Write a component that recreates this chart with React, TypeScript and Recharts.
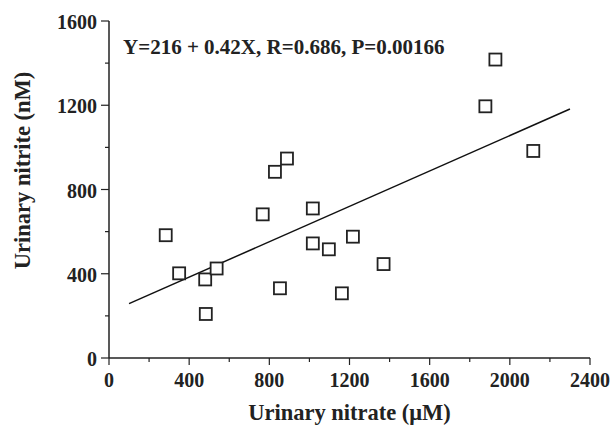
import { ScatterChart, Scatter, XAxis, YAxis, ReferenceLine } from "recharts";

const nitrate = [283, 350, 480, 483, 537, 767, 828, 888, 853, 1017, 1017, 1097, 1217, 1162, 1370, 1878, 1928, 2117];
const nitrite = [583, 402, 373, 209, 425, 682, 884, 947, 331, 710, 544, 516, 576, 307, 446, 1195, 1417, 983];

const xTicks = [0, 200, 400, 600, 800, 1000, 1200, 1400, 1600, 1800, 2000, 2200, 2400];
const yTicks = [0, 200, 400, 600, 800, 1000, 1200, 1400, 1600];
const majorX = [0, 400, 800, 1200, 1600, 2000, 2400];
const majorY = [0, 400, 800, 1200, 1600];

const intercept = 216;
const slope = 0.42;
const fitRange = [100, 2300];

const points = nitrate.map((x, i) => ({ x, y: nitrite[i] }));

const font = "'Liberation Serif', 'Times New Roman', serif";
const ink = "#222";

const BottomTick = (props: any) => {
  const { x, y, payload } = props;
  const major = majorX.includes(payload.value);
  return (
    <g>
      <line x1={x} x2={x} y1={y} y2={y + (major ? 7 : 4)} stroke={ink} strokeWidth={1.2} />
      {major && (
        <text x={x} y={y + 29} textAnchor="middle" fontFamily={font} fontWeight="bold" fontSize={20} fill={ink}>
          {payload.value}
        </text>
      )}
    </g>
  );
};

const TopTick = (props: any) => {
  const { x, y, payload } = props;
  const major = majorX.includes(payload.value);
  return <line x1={x} x2={x} y1={y} y2={y + (major ? 7 : 4)} stroke={ink} strokeWidth={1.2} />;
};

const LeftTick = (props: any) => {
  const { x, y, payload } = props;
  const major = majorY.includes(payload.value);
  return (
    <g>
      <line x1={x - (major ? 8 : 4)} x2={x} y1={y} y2={y} stroke={ink} strokeWidth={1.2} />
      {major && (
        <text x={x - 12} y={y + 8} textAnchor="end" fontFamily={font} fontWeight="bold" fontSize={20} fill={ink}>
          {payload.value}
        </text>
      )}
    </g>
  );
};

const RightTick = (props: any) => {
  const { x, y, payload } = props;
  const major = majorY.includes(payload.value);
  return <line x1={x - (major ? 7 : 4)} x2={x} y1={y} y2={y} stroke={ink} strokeWidth={1.2} />;
};

const YTitle = (props: any) => {
  const { viewBox } = props;
  const cx = 30;
  const cy = viewBox.y + viewBox.height / 2 - 19;
  return (
    <text
      x={cx}
      y={cy}
      transform={`rotate(-90, ${cx}, ${cy})`}
      textAnchor="middle"
      fontFamily={font}
      fontWeight="bold"
      fontSize={22.5}
      fill={ink}
    >
      Urinary nitrite (nM)
    </text>
  );
};

const Square = (props: any) => {
  const { cx, cy } = props;
  return <rect x={cx - 6} y={cy - 6} width={12} height={12} fill="#fff" stroke={ink} strokeWidth={1.8} />;
};

export default function App() {
  return (
    <div style={{ position: "absolute", left: 0, top: 0, width: 612, height: 426, background: "#fff" }}>
      <ScatterChart width={612} height={426} margin={{ top: 21, right: 22, left: 0, bottom: 0 }}>
        <XAxis
          xAxisId="b"
          type="number"
          dataKey="x"
          domain={[0, 2400]}
          ticks={xTicks}
          interval={0}
          height={68}
          tickSize={0}
          tickMargin={0}
          tickLine={false}
          tick={<BottomTick />}
          axisLine={{ stroke: ink, strokeWidth: 1.5 }}
          label={{
            value: "Urinary nitrate (\u03bcM)",
            position: "insideBottom",
            offset: 6,
            fontFamily: font,
            fontWeight: "bold",
            fontSize: 22.5,
            fill: ink,
          }}
        />
        <XAxis
          xAxisId="t"
          orientation="top"
          type="number"
          dataKey="x"
          domain={[0, 2400]}
          ticks={xTicks}
          interval={0}
          height={0}
          tickSize={0}
          tickMargin={0}
          tickLine={false}
          tick={<TopTick />}
          axisLine={{ stroke: ink, strokeWidth: 1.5 }}
        />
        <YAxis
          yAxisId="l"
          type="number"
          dataKey="y"
          domain={[0, 1600]}
          ticks={yTicks}
          interval={0}
          width={109}
          tickSize={0}
          tickMargin={0}
          tickLine={false}
          tick={<LeftTick />}
          axisLine={{ stroke: ink, strokeWidth: 1.5 }}
          label={{ content: <YTitle /> }}
        />
        <YAxis
          yAxisId="r"
          orientation="right"
          type="number"
          dataKey="y"
          domain={[0, 1600]}
          ticks={yTicks}
          interval={0}
          width={0}
          tickSize={0}
          tickMargin={0}
          tickLine={false}
          tick={<RightTick />}
          axisLine={{ stroke: ink, strokeWidth: 1.5 }}
        />
        <ReferenceLine
          xAxisId="b"
          yAxisId="l"
          segment={[
            { x: fitRange[0], y: intercept + slope * fitRange[0] },
            { x: fitRange[1], y: intercept + slope * fitRange[1] },
          ]}
          stroke="#111"
          strokeWidth={1.5}
        />
        <Scatter xAxisId="b" yAxisId="l" data={points} shape={<Square />} isAnimationActive={false} />
        <Scatter xAxisId="t" yAxisId="r" data={points} shape={() => null} isAnimationActive={false} />
      </ScatterChart>
      <div
        style={{
          position: "absolute",
          left: 123,
          top: 35,
          fontFamily: font,
          fontWeight: "bold",
          fontSize: 21,
          color: ink,
          whiteSpace: "nowrap",
          lineHeight: "24px",
        }}
      >
        Y=216 + 0.42X, R=0.686, P=0.00166
      </div>
    </div>
  );
}
